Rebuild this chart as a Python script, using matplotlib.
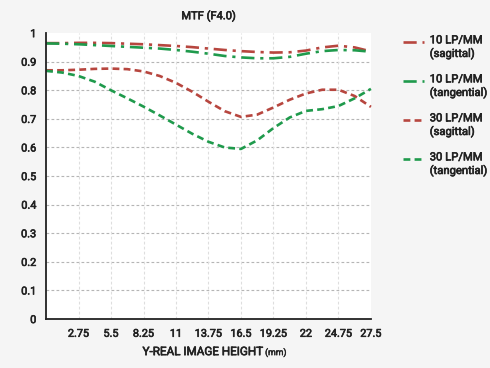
import matplotlib
matplotlib.use("Agg")
import matplotlib.pyplot as plt
import matplotlib.patheffects as pe
from matplotlib.lines import Line2D

plt.rcParams['font.family'] = ['Roboto', 'DejaVu Sans']

# ---------------- data ----------------
image_height = [0, 1.375, 2.75, 4.125, 5.5, 6.875, 8.25, 9.625, 11, 12.375, 13.75,
                15.125, 16.5, 17.875, 19.25, 20.625, 22, 23.375, 24.75, 26.125, 27.5]

mtf10_sag = [0.965, 0.965, 0.966, 0.966, 0.965, 0.963, 0.961, 0.958, 0.955, 0.951, 0.946,
             0.941, 0.937, 0.934, 0.932, 0.933, 0.939, 0.950, 0.956, 0.950, 0.936]
mtf10_tan = [0.964, 0.963, 0.961, 0.958, 0.955, 0.952, 0.949, 0.946, 0.941, 0.935, 0.928,
             0.920, 0.915, 0.912, 0.912, 0.917, 0.928, 0.937, 0.941, 0.940, 0.935]
mtf30_sag = [0.870, 0.870, 0.872, 0.875, 0.876, 0.874, 0.866, 0.850, 0.826, 0.795, 0.760,
             0.727, 0.707, 0.715, 0.740, 0.767, 0.789, 0.802, 0.802, 0.780, 0.742]
mtf30_tan = [0.868, 0.862, 0.850, 0.830, 0.800, 0.772, 0.743, 0.712, 0.680, 0.648, 0.620,
             0.600, 0.595, 0.625, 0.668, 0.705, 0.728, 0.734, 0.745, 0.772, 0.805]

x_ticks = [2.75, 5.5, 8.25, 11, 13.75, 16.5, 19.25, 22, 24.75, 27.5]
x_tick_labels = ['2.75', '5.5', '8.25', '11', '13.75', '16.5', '19.25', '22', '24.75', '27.5']
y_ticks = [0, 0.1, 0.2, 0.3, 0.4, 0.5, 0.6, 0.7, 0.8, 0.9, 1]
y_tick_labels = ['0', '0.1', '0.2', '0.3', '0.4', '0.5', '0.6', '0.7', '0.8', '0.9', '1']

labels = ['10 LP/MM\n(sagittal)', '10 LP/MM\n(tangential)',
          '30 LP/MM\n(sagittal)', '30 LP/MM\n(tangential)']

# ---------------- style ----------------
RED = '#b7463f'
GREEN = '#1f9a4c'
BG = '#f5f5f5'
TXT = '#222222'
dashdot = (0, (5, 2.2, 1.2, 2.2))
dashed = (0, (2.6, 1.6))
lw = 1.9
thick = [pe.withStroke(linewidth=0.45, foreground=TXT)]  # fake a medium weight

fig = plt.figure(figsize=(4.9, 3.68), dpi=100, facecolor=BG)
ax = fig.add_axes([0.094, 0.133, 0.663, 0.777])
ax.set_facecolor('white')

series = [(mtf10_sag, RED, dashdot), (mtf10_tan, GREEN, dashdot),
          (mtf30_sag, RED, dashed), (mtf30_tan, GREEN, dashed)]
for vals, col, ls in series:
    ax.plot(image_height, vals, color=col, linestyle=ls, linewidth=lw, clip_on=False)

ax.set_xlim(0, 27.5)
ax.set_ylim(0, 1)
ax.set_xticks(x_ticks)
ax.set_xticklabels(x_tick_labels)
ax.set_yticks(y_ticks)
ax.set_yticklabels(y_tick_labels)
ax.tick_params(length=0, labelsize=7.8, colors=TXT, pad=7)
for lab in ax.get_xticklabels() + ax.get_yticklabels():
    lab.set_path_effects(thick)

# grid
for yv in y_ticks[1:-1]:
    ax.axhline(yv, color='#b5b5b5', linewidth=0.8, linestyle=(0, (2.5, 2)), zorder=0)
for xv in x_ticks[:-1]:
    ax.axvline(xv, color='#dedede', linewidth=0.8, linestyle=(0, (2.5, 2)), zorder=0)

for s in ['top', 'right']:
    ax.spines[s].set_visible(False)
for s in ['left', 'bottom']:
    ax.spines[s].set_color('#222222')
    ax.spines[s].set_linewidth(1.3)

ax.set_title('MTF (F4.0)', fontsize=8, color=TXT, pad=10, path_effects=thick)

# x label with smaller "(mm)"
fig.text(0.536, 0.035, 'Y-REAL IMAGE HEIGHT', ha='right', va='baseline',
         fontsize=8.4, color=TXT, path_effects=thick)
fig.text(0.541, 0.035, '(mm)', ha='left', va='baseline',
         fontsize=6.3, color=TXT, path_effects=[pe.withStroke(linewidth=0.3, foreground=TXT)])

# legend drawn on the right
leg_y = [0.886, 0.780, 0.674, 0.568]
for (vals, col, ls), lab, yy in zip(series, labels, leg_y):
    fig.add_artist(Line2D([0.823, 0.866], [yy, yy], color=col, linestyle=ls,
                          linewidth=lw, transform=fig.transFigure))
    fig.text(0.877, yy + 0.018, lab, ha='left', va='top', fontsize=8.1,
             color=TXT, linespacing=1.3, path_effects=thick)

fig.savefig('out.png', dpi=100, facecolor=BG)
